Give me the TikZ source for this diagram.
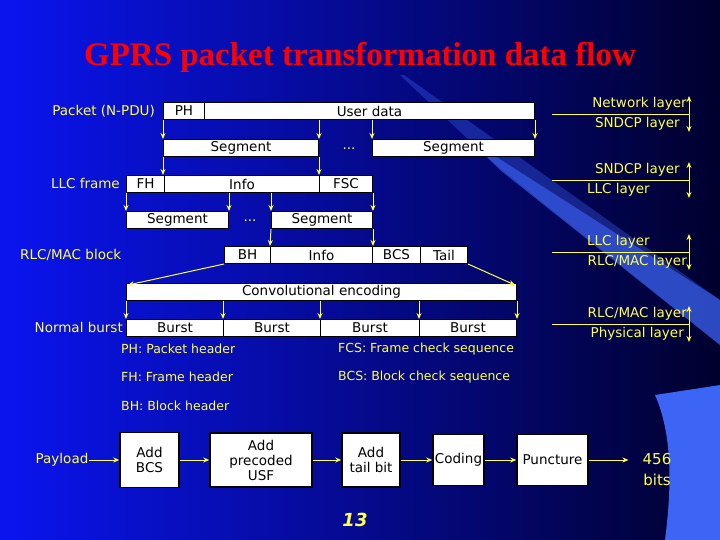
\documentclass[tikz,border=0pt]{standalone}
\usepackage{fontspec}
\setmainfont{DejaVu Sans}
\newfontfamily\titlefont{Liberation Serif}
\usetikzlibrary{arrows.meta}
\definecolor{ylw}{RGB}{255,255,80}
\definecolor{bgA}{RGB}{10,20,240}
\definecolor{bgB}{RGB}{0,0,45}
\definecolor{wedge}{RGB}{60,100,245}
\tikzset{
  cell/.style={draw=black,line width=1pt,fill=white,inner sep=0pt,font=\fontsize{13.5}{16}\selectfont},
  lbl/.style={text=ylw,font=\fontsize{13.5}{16}\selectfont,inner sep=0pt},
  leg/.style={text=ylw,font=\fontsize{12.5}{15}\selectfont,anchor=west,inner sep=0pt},
  arr/.style={draw=ylw,line width=1pt,-{Stealth[length=6pt,width=5pt]}},
  dbl/.style={draw=ylw,line width=1pt,{Stealth[length=6pt,width=5pt]}-{Stealth[length=6pt,width=5pt]}},
  ln/.style={draw=ylw,line width=0.8pt},
  pbox/.style={draw=black,line width=1.5pt,fill=white,align=center,inner sep=1pt,font=\fontsize{13.5}{15}\selectfont},
}
\begin{document}
\begin{tikzpicture}[x=1pt,y=-1pt]
\useasboundingbox (0,0) rectangle (720,540);
\shade[left color=bgA,right color=bgB] (0,0) rectangle (720,540);
\fill[wedge,opacity=0.35] (400,75) -- (404,75) -- (720,300) -- (720,345) -- (490,160) -- cycle;
\fill[wedge,opacity=0.6] (470,140) -- (720,300) -- (720,345) -- (500,170) -- cycle;
\fill[wedge] (655,395) .. controls (675,440) and (670,500) .. (665,540) -- (720,540) -- (720,385) -- cycle;
\node[text=red,font=\titlefont\bfseries\fontsize{33}{36}\selectfont] (title) at (360,57) {GPRS packet transformation data flow};
% row 1
\node[cell,minimum width=41,minimum height=17,anchor=north west] (ph) at (163,102) {PH};
\node[cell,minimum width=330,minimum height=17,anchor=north west] (ud) at (204,102) {User data};
\node[lbl,anchor=east] (pkt) at (155,111) {Packet (N-PDU)};
% row 2
\node[cell,minimum width=155,minimum height=17,anchor=north west] (s1) at (163,139) {Segment};
\node[cell,minimum width=162,minimum height=17,anchor=north west] (s2) at (372,139) {Segment};
\node[lbl] (d1) at (349,149) {...};
% row 3
\node[cell,minimum width=38,minimum height=17,anchor=north west] (fh) at (126,175) {FH};
\node[cell,minimum width=155,minimum height=17,anchor=north west] (inf1) at (164,175) {Info};
\node[cell,minimum width=53,minimum height=17,anchor=north west] (fsc) at (319,175) {FSC};
\node[lbl,anchor=east] (llc) at (120,183) {LLC frame};
% row 4
\node[cell,minimum width=102,minimum height=17,anchor=north west] (s3) at (126,211) {Segment};
\node[cell,minimum width=101,minimum height=17,anchor=north west] (s4) at (271,211) {Segment};
\node[lbl] (d2) at (250,221) {...};
% row 5
\node[cell,minimum width=46,minimum height=17,anchor=north west] (bh) at (224,246) {BH};
\node[cell,minimum width=102,minimum height=17,anchor=north west] (inf2) at (270,246) {Info};
\node[cell,minimum width=48,minimum height=17,anchor=north west] (bcs) at (372,246) {BCS};
\node[cell,minimum width=47,minimum height=17,anchor=north west] (tail) at (420,246) {Tail};
\node[lbl,anchor=west] (rlc) at (20,255) {RLC/MAC block};
% row 6
\node[cell,minimum width=390,minimum height=17,anchor=north west] (conv) at (126,283) {Convolutional encoding};
% row 7
\node[cell,minimum width=97,minimum height=17,anchor=north west] (b1) at (126,319) {Burst};
\node[cell,minimum width=97,minimum height=17,anchor=north west] (b2) at (223,319) {Burst};
\node[cell,minimum width=99,minimum height=17,anchor=north west] (b3) at (320,319) {Burst};
\node[cell,minimum width=97,minimum height=17,anchor=north west] (b4) at (419,319) {Burst};
\node[lbl,anchor=east] (nb) at (123,327) {Normal burst};
% arrows
\draw[arr] (ph.south west) -- (s1.north west);
\draw[arr] (ud.south west -| s1.north east) -- (s1.north east);
\draw[arr] (ud.south west -| s2.north west) -- (s2.north west);
\draw[arr] (ud.south east) -- (s2.north east);
\draw[arr] (s1.south west) -- (s1.south west |- fh.north);
\draw[arr] (s1.south east) -- (s1.south east |- fh.north);
\draw[arr] (fh.south west) -- (s3.north west);
\draw[arr] (inf1.south west -| s3.north east) -- (s3.north east);
\draw[arr] (inf1.south west -| s4.north west) -- (s4.north west);
\draw[arr] (fsc.south east) -- (s4.north east);
\draw[arr] (s4.south west) -- (inf2.north west);
\draw[arr] (s4.south east) -- (inf2.north east);
\draw[arr] (bh.south west) -- ([xshift=2pt,yshift=-2pt]conv.north west);
\draw[arr] (tail.south east) -- ([xshift=-2pt,yshift=-2pt]conv.north east);
\draw[arr] (conv.south west) -- (b1.north west);
\draw[arr] (conv.south west -| b2.north west) -- (b2.north west);
\draw[arr] (conv.south west -| b3.north west) -- (b3.north west);
\draw[arr] (conv.south west -| b4.north west) -- (b4.north west);
\draw[arr] (conv.south east) -- (b4.north east);
% layer labels
\foreach \n/\y in {L1/114, L2/180, L3/252, L4/324}{
  \coordinate (\n l) at (552,\y);
  \coordinate (\n r) at (689,\y);
  \coordinate (\n t) at (689,\y-18);
  \coordinate (\n b) at (689,\y+18);
  \draw[ln] (\n l) -- (\n r);
  \draw[dbl] (\n t) -- (\n b);
}
\node[lbl,anchor=east] (L1a) at (687,104) {Network layer};
\node[lbl,anchor=east] (L1b) at (680,124) {SNDCP layer};
\node[lbl,anchor=east] (L2a) at (680,170) {SNDCP layer};
\node[lbl,anchor=east] (L2b) at (650,190) {LLC layer};
\node[lbl,anchor=east] (L3a) at (650,242) {LLC layer};
\node[lbl,anchor=east] (L3b) at (687,262) {RLC/MAC layer};
\node[lbl,anchor=east] (L4a) at (687,314) {RLC/MAC layer};
\node[lbl,anchor=east] (L4b) at (684,334) {Physical layer};
% legend
\node[leg] (lg1) at (121,349) {PH: Packet header};
\node[leg] (lg2) at (338,349) {FCS: Frame check sequence};
\node[leg] (lg3) at (121,377) {FH: Frame header};
\node[leg] (lg4) at (338,377) {BCS: Block check sequence};
\node[leg] (lg5) at (121,406) {BH: Block header};
% pipeline
\node[lbl] (pay) at (62,460) {Payload};
\node[pbox,minimum width=59,minimum height=55] (p1) at (149.5,460) {Add\\BCS};
\node[pbox,minimum width=102,minimum height=54] (p2) at (261,460) {Add\\precoded\\USF};
\node[pbox,minimum width=58,minimum height=54] (p3) at (371,460) {Add\\tail bit};
\node[pbox,minimum width=51,minimum height=51] (p4) at (458.5,460) {Coding};
\node[pbox,minimum width=71,minimum height=51] (p5) at (552.5,460) {Puncture};
\node[lbl,align=center,font=\fontsize{15}{21}\selectfont] (out) at (657,470) {456\\bits};
\draw[arr] (pay) -- (p1);
\draw[arr] (p1) -- (p2);
\draw[arr] (p2) -- (p3);
\draw[arr] (p3) -- (p4);
\draw[arr] (p4) -- (p5);
\draw[arr] (p5) -- ([xshift=-14pt]out.west |- p5);
\node[lbl,font=\bfseries\itshape\fontsize{18}{20}\selectfont] (pg) at (355,520) {13};
\end{tikzpicture}
\end{document}
